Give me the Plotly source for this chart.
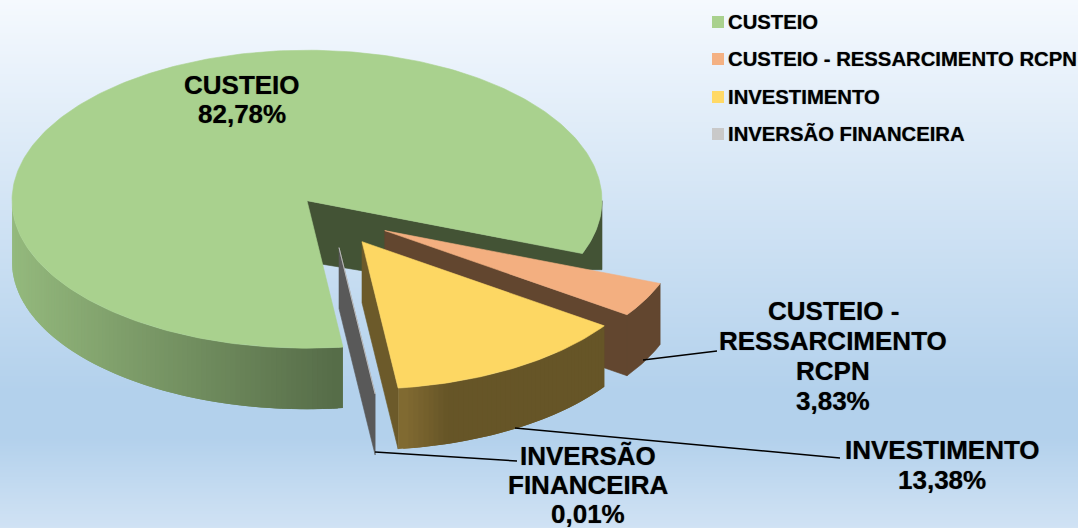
import math
import plotly.graph_objects as go

# ---- data ----
categories = ["CUSTEIO", "CUSTEIO - RESSARCIMENTO RCPN", "INVESTIMENTO", "INVERSÃO FINANCEIRA"]
values = [82.78, 3.83, 13.38, 0.01]

# ---- styling / layout constants ----
W, H = 1078, 528
FONT = "Liberation Sans"
top_colors = ["#a9d18e", "#f3af80", "#fdd763", "#c9c9c9"]
legend_colors = ["#a9d18e", "#f4b183", "#ffd966", "#c9c9c9"]
CX, CY, RX, RY_BACK, RY_FRONT, DEPTH = 307.0, 200.7, 295.0, 150.5, 147.5, 61.0
START_DEG = 83.0
EXPLODE = 0.33
explode_dir = [None, 37.0, 55.6, 70.8]
SHADOW = "0 0 1px rgba(0,0,0,0.55)"

label_lines = [["CUSTEIO"], ["CUSTEIO -", "RESSARCIMENTO", "RCPN"], ["INVESTIMENTO"], ["INVERSÃO", "FINANCEIRA"]]
label_cx = [242, 833, 942, 588]
label_first_y = [85, 311, 450, 456]
label_step = [29, 30, 30, 29]
legend_rows = [22, 59, 97, 134]
leaders = [None, ((643, 360), (717, 351)), ((515, 428), (840, 458)), ((375, 452), (517, 461))]

bg_stops = [(0.0, "#f5f9fe"), (0.74, "#b3d1ec"), (0.83, "#b3d1ec"), (1.0, "#d0e2f4")]


def hex2rgb(c):
    return tuple(int(c[i:i + 2], 16) for i in (1, 3, 5))


def mix(a, b, t):
    t = max(0.0, min(1.0, t))
    ra, rb = hex2rgb(a), hex2rgb(b)
    return "rgb(%d,%d,%d)" % tuple(round(x + (y - x) * t) for x, y in zip(ra, rb))


def pt(theta, ox=0.0, oy=0.0, dz=0.0):
    r = math.radians(theta)
    s = math.sin(r)
    ry = RY_FRONT if s > 0 else RY_BACK
    return CX + ox + RX * math.cos(r), CY + oy + ry * s + dz


def arc(a, b, ox=0.0, oy=0.0, dz=0.0, step=1.0):
    n = max(1, int(abs(b - a) / step))
    return [pt(a + (b - a) * i / n, ox, oy, dz) for i in range(n + 1)]


fig = go.Figure()


def poly(points, color, name=None, lw=0.6):
    xs = [p[0] for p in points] + [points[0][0]]
    ys = [p[1] for p in points] + [points[0][1]]
    fig.add_trace(go.Scatter(x=xs, y=ys, mode="lines", fill="toself", fillcolor=color,
                             line=dict(color=color, width=lw), hoverinfo="skip",
                             showlegend=False, name=name))


def wall(a, b, ox, oy, colour_at, step=1.0):
    # painted from b back to a, each strip overlapping the next one so no seams show
    n = max(1, int(abs(b - a) / step))
    for i in range(n - 1, -1, -1):
        t0 = a + (b - a) * i / n
        t1 = a + (b - a) * min(n, i + 2) / n
        top = arc(t0, t1, ox, oy, 0, 0.5)
        bot = arc(t1, t0, ox, oy, DEPTH, 0.5)
        t_mid = a + (b - a) * (i + 0.5) / n
        poly(top + bot, colour_at(pt(t_mid)[0] + ox), lw=0)


# ---- background gradient ----
rows = list(range(H))
fig.add_trace(go.Heatmap(x=[-10, W + 10], y=rows, z=[[r, r] for r in rows], zmin=0, zmax=H - 1,
                         colorscale=[[s, c] for s, c in bg_stops], showscale=False, hoverinfo="skip"))

# ---- angles from the values ----
total = sum(values)
angles = []
cur = START_DEG
for v in values:
    angles.append((cur, cur + v / total * 360.0))
    cur += v / total * 360.0


def offset(i):
    if explode_dir[i] is None:
        return 0.0, 0.0
    r = math.radians(explode_dir[i])
    return EXPLODE * RX * math.cos(r), EXPLODE * RY_BACK * math.sin(r)


# ---- CUSTEIO ----
a0, a1 = angles[0]
inner = "#435335"
poly([(CX, CY)] + arc(a1 - 360, 0) + [(CX + RX, CY + DEPTH + 8), (CX + 55, CY + DEPTH + 9), (CX, CY + DEPTH)], inner)
wall(a0, 180, 0, 0, lambda x: mix("#566c48", "#93b87c", (CX + 36 - x) / 325))
poly([(CX, CY)] + arc(a0, a1), top_colors[0], categories[0])

# ---- INVERSÃO ----
a0, a1 = angles[3]
ox, oy = offset(3)
tip = (CX + ox, CY + oy)
e = pt(a0, ox, oy)
poly([tip, e, (e[0], e[1] + DEPTH), (tip[0], tip[1] + DEPTH)], "#595959")
poly([tip] + arc(a0, a1, ox, oy), top_colors[3], categories[3])

# ---- RESSARCIMENTO ----
a0, a1 = angles[1]
ox, oy = offset(1)
tip = (CX + ox, CY + oy)
side = "#62462f"
e = pt(a1 - 360, ox, oy)
poly([tip, e, (e[0], e[1] + DEPTH), (tip[0], tip[1] + DEPTH)], side)
poly(arc(a0 - 360, a1 - 360, ox, oy) + arc(a1 - 360, a0 - 360, ox, oy, DEPTH), side)
poly([tip] + arc(a0 - 360, a1 - 360, ox, oy), top_colors[1], categories[1])

# ---- INVESTIMENTO ----
a0, a1 = angles[2]
ox, oy = offset(2)
tip = (CX + ox, CY + oy)
e = pt(a1 - 360, ox, oy)
poly([tip, e, (e[0], e[1] + DEPTH), (tip[0], tip[1] + DEPTH)], "#6c5a2a")
wall(a1 - 360, a0 - 360, ox, oy, lambda x: mix("#826b32", "#665527", (x - e[0]) / 45))
poly([tip] + arc(a0 - 360, a1 - 360, ox, oy), top_colors[2], categories[2])

# ---- legend ----
fig.add_trace(go.Scatter(x=[718] * 4, y=legend_rows, mode="markers", hoverinfo="skip", showlegend=False,
                         marker=dict(symbol="square", size=12, color=legend_colors, line=dict(width=0))))

ann = []
for name, y in zip(categories, legend_rows):
    ann.append(dict(x=727, y=y, text=name, xanchor="left", yanchor="middle", showarrow=False, borderpad=0,
                    font=dict(family=FONT, size=20.3, color="#000000", weight=700, shadow=SHADOW)))

# ---- data labels ----
for i, lines in enumerate(label_lines):
    pct = f"{values[i]:.2f}".replace(".", ",") + "%"
    for j, t in enumerate(lines + [pct]):
        ann.append(dict(x=label_cx[i], y=label_first_y[i] + j * label_step[i], text=t, xanchor="center",
                        yanchor="middle", showarrow=False, borderpad=0,
                        font=dict(family=FONT, size=26, color="#000000", weight=700, shadow=SHADOW)))

shapes = [dict(type="line", x0=l[0][0], y0=l[0][1], x1=l[1][0], y1=l[1][1],
               line=dict(color="#000000", width=1.5), layer="above") for l in leaders if l]

fig.update_layout(width=W, height=H, margin=dict(l=0, r=0, t=0, b=0), showlegend=False,
                  paper_bgcolor="#d5e5f5", plot_bgcolor="rgba(0,0,0,0)",
                  xaxis=dict(range=[0, W], visible=False, fixedrange=True),
                  yaxis=dict(range=[H, 0], visible=False, fixedrange=True),
                  annotations=ann, shapes=shapes, font=dict(family=FONT))

fig.write_html("out.html", config={"displayModeBar": False},
               post_script="document.body.style.margin='0';")
